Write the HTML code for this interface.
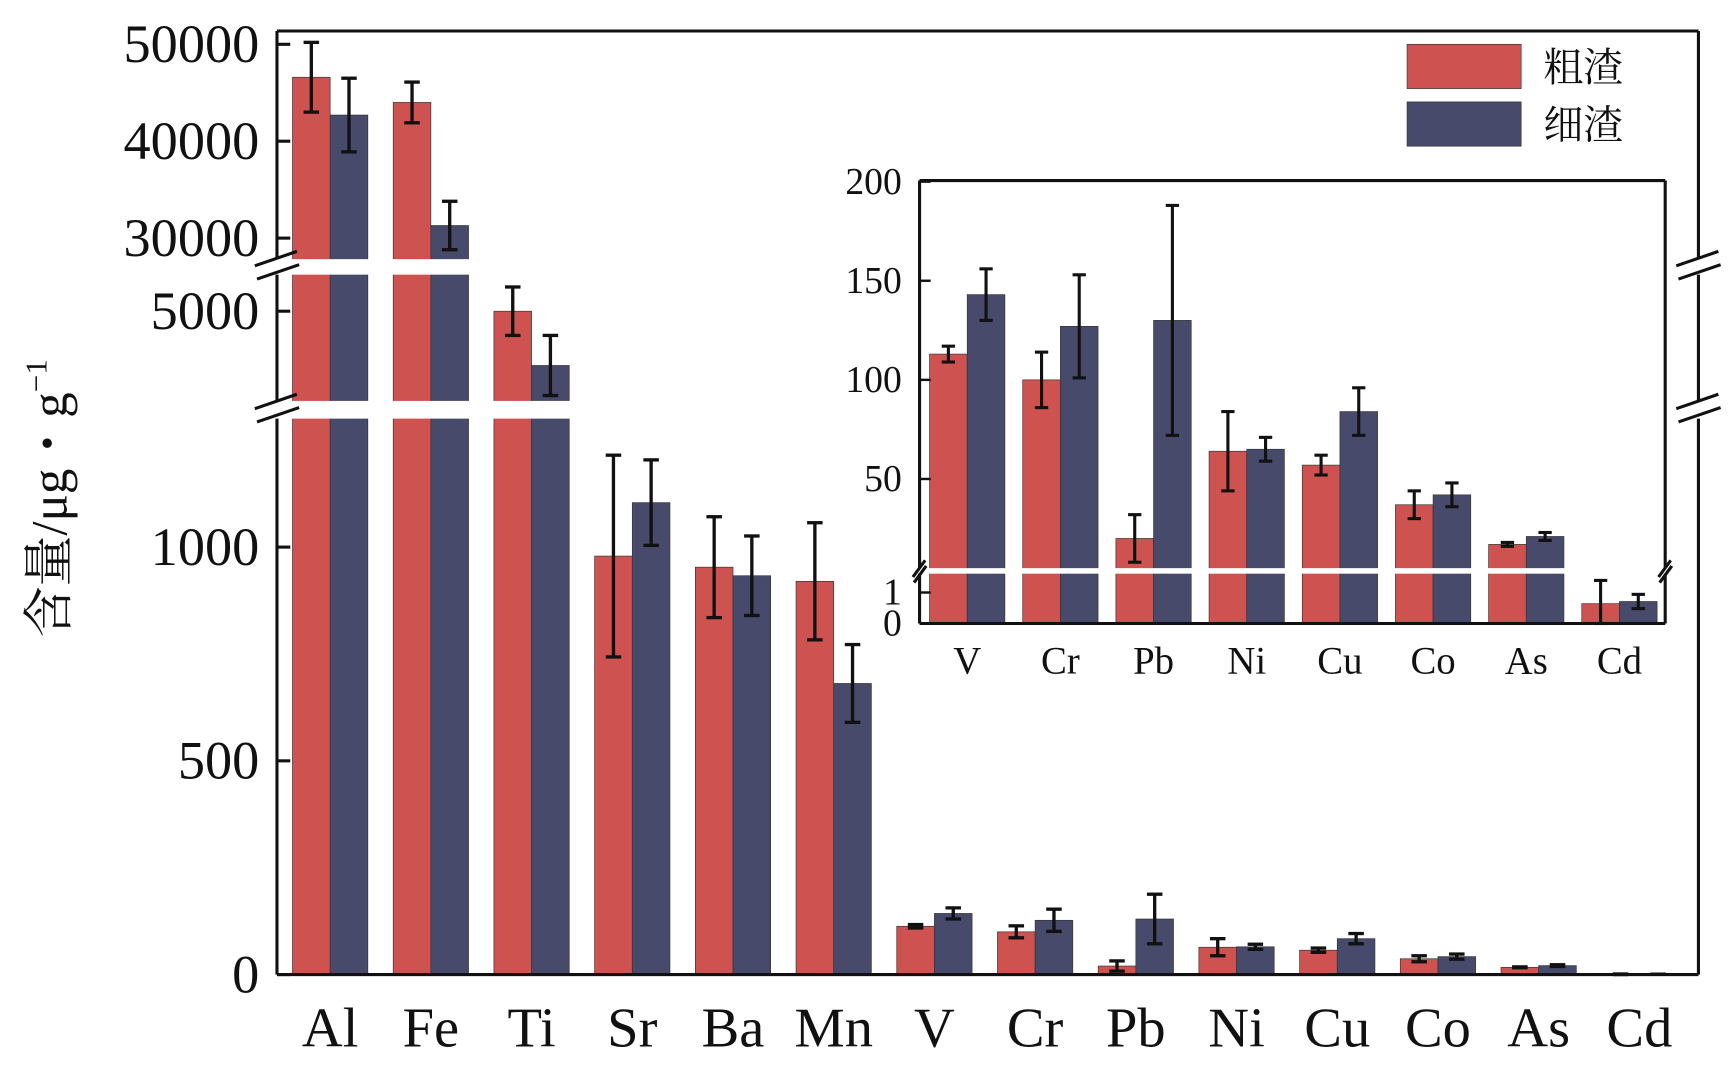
<!DOCTYPE html>
<html><head><meta charset="utf-8"><style>
html,body{margin:0;padding:0;background:#fff;}
svg{display:block;}
text{font-family:"Liberation Serif","Noto Serif CJK SC",serif;fill:#111;}
</style></head><body>
<svg id="chart" width="1735" height="1082" viewBox="0 0 1566 977" preserveAspectRatio="none" xmlns="http://www.w3.org/2000/svg"></svg>
<script>
const categories=["Al","Fe","Ti","Sr","Ba","Mn","V","Cr","Pb","Ni","Cu","Co","As","Cd"];
const coarse=[46600,44000,5000,979,953,920,113,100,20,64,57,37,17,0.64];
const coarseErr=[3600,2100,540,236,118,137,4,14,12,20,5,7,1,0.75];
const fine=[42700,31300,3790,1104,933,681,143,127,130,65,84,42,21,0.71];
const fineErr=[3800,2500,670,100,93,91,13,26,58,6,12,6,2,0.23];
const mainTicks=[0,500,1000,5000,30000,40000,50000];
const insetCats=["V","Cr","Pb","Ni","Cu","Co","As","Cd"];
const insetTicks=[0,1,50,100,150,200];
const RED="#cd5250",BLUE="#474a6a";
const svg=document.getElementById('chart');
const NS="http://www.w3.org/2000/svg";
function mk(tag,attrs,parent){const e=document.createElementNS(NS,tag);for(const k in attrs)e.setAttribute(k,attrs[k]);(parent||svg).appendChild(e);return e;}
function yMain(v){ if(v>27800) return Math.max(40+(50000-v)*0.00875,30); if(v>2000) return Math.max(362-(v-3000)*0.0405,248); return Math.max(880-v*0.386,378);}
function xMain(i){return 298+i*90.9;}
function yIn(v){ if(v>5.3) return 343-(v-100)*1.79; return Math.max(563-v*28,518);}
function xIn(i){return 873+i*84.1;}
categories.forEach((c,i)=>{
 [[coarse,coarseErr,RED,-34,'coarse'],[fine,fineErr,BLUE,0,'fine']].forEach(([vals,errs,col,off,nm])=>{
  const y=yMain(vals[i]);
  const r=mk('rect',{x:xMain(i)+off,y:y,width:34,height:880-y,fill:col,stroke:'#333','stroke-width':0.6});
  
  
 });
});
mk('rect',{x:252,y:234,width:1279,height:14,fill:'#fff'});
mk('rect',{x:252,y:362,width:1279,height:16,fill:'#fff'});
categories.forEach((c,i)=>{
 [[coarse,coarseErr,-17,'coarse'],[fine,fineErr,17,'fine']].forEach(([vals,errs,off,nm])=>{
  const v=vals[i],e=errs[i];if(i>=6)return;
  const x=xMain(i)+off,y1=yMain(v+e),y2=yMain(v-e);
  const g=mk('g',{stroke:'#111','stroke-width':3});
  
  
  mk('line',{x1:x,y1:y1,x2:x,y2:y2},g);mk('line',{x1:x-7,y1:y1,x2:x+7,y2:y1},g);mk('line',{x1:x-7,y1:y2,x2:x+7,y2:y2},g);
 });
});
categories.forEach((c,i)=>{ if(i<6)return;
 [[coarse,coarseErr,-17],[fine,fineErr,17]].forEach(([vals,errs,off])=>{
  const x=xMain(i)+off,y1=880-(vals[i]+errs[i])*0.386,y2=880-Math.max(vals[i]-errs[i],0)*0.386;
  const g=mk('g',{stroke:'#111','stroke-width':3});
  
  
  mk('line',{x1:x,y1:y1,x2:x,y2:y2},g);mk('line',{x1:x-7,y1:y1,x2:x+7,y2:y1},g);mk('line',{x1:x-7,y1:y2,x2:x+7,y2:y2},g);
 });
});
const fr=mk('g',{stroke:'#111','stroke-width':2.8,fill:'none'});

mk('line',{x1:250,y1:28,x2:1533,y2:28},fr);mk('line',{x1:250,y1:880,x2:1533,y2:880},fr);
[[28,234],[248,362],[378,880]].forEach(([a,b])=>{mk('line',{x1:250,y1:a,x2:250,y2:b},fr);mk('line',{x1:1533,y1:a,x2:1533,y2:b},fr);});
[241,370].forEach(y=>{[250,1533].forEach(x=>{mk('line',{x1:x-20,y1:y-1,x2:x+18,y2:y-14},fr);mk('line',{x1:x-18,y1:y+11,x2:x+20,y2:y-2},fr);});});
mainTicks.forEach(t=>{const y=yMain(t);
 mk('line',{x1:250,y1:y,x2:262,y2:y,stroke:'#111','stroke-width':2.8});
 const tx=mk('text',{x:234,y:y+16,'font-size':49,'text-anchor':'end'});tx.textContent=t;
 
});
categories.forEach((c,i)=>{const t=mk('text',{x:xMain(i),y:945,'font-size':51,'text-anchor':'middle'});t.textContent=c;
 });
const yt=mk('text',{x:0,y:0,'font-size':46,'text-anchor':'middle',transform:'translate(60,450) rotate(-90)'});
yt.innerHTML='含量/μg・g<tspan dy="-18" font-size="28">−1</tspan>';

[[RED,'粗渣',40],[BLUE,'细渣',92]].forEach(([col,lab,y])=>{
 const g=mk('g',{});
 mk('rect',{x:1270,y:y,width:103,height:40,fill:col,stroke:'#333','stroke-width':0.6},g);
 const t=mk('text',{x:1393,y:y+33,'font-size':36},g);t.textContent=lab;
});
const ins=mk('g',{});
mk('rect',{x:830,y:163,width:673,height:400,fill:'#fff'},ins);
insetCats.forEach((c,k)=>{const i=k+6;
 [[coarse,RED,-34,'coarse'],[fine,BLUE,0,'fine']].forEach(([vals,col,off,nm])=>{
  const y=yIn(vals[i]);const r=mk('rect',{x:xIn(k)+off,y:y,width:34,height:563-y,fill:col,stroke:'#333','stroke-width':0.6},ins);
  
 });
});
mk('rect',{x:832,y:513,width:669,height:5,fill:'#fff'},ins);
insetCats.forEach((c,k)=>{const i=k+6;
 [[coarse,coarseErr,-17],[fine,fineErr,17]].forEach(([vals,errs,off])=>{
  const x=xIn(k)+off,y1=yIn(vals[i]+errs[i]),y2=yIn(Math.max(vals[i]-errs[i],0));
  const g=mk('g',{stroke:'#111','stroke-width':2.8},ins);
  
  mk('line',{x1:x,y1:y1,x2:x,y2:y2},g);mk('line',{x1:x-6,y1:y1,x2:x+6,y2:y1},g);mk('line',{x1:x-6,y1:y2,x2:x+6,y2:y2},g);
 });
});
const ifr=mk('g',{stroke:'#111','stroke-width':2.8,fill:'none'},ins);
mk('line',{x1:830,y1:163,x2:1503,y2:163},ifr);mk('line',{x1:830,y1:563,x2:1503,y2:563},ifr);
[[163,513],[518,563]].forEach(([a,b])=>{mk('line',{x1:830,y1:a,x2:830,y2:b},ifr);mk('line',{x1:1503,y1:a,x2:1503,y2:b},ifr);});
[830,1503].forEach(x=>{mk('line',{x1:x-6,y1:521,x2:x+5,y2:506},ifr);mk('line',{x1:x-5,y1:526,x2:x+6,y2:511},ifr);});
insetTicks.forEach(t=>{const y=yIn(t);
 mk('line',{x1:830,y1:y,x2:840,y2:y,stroke:'#111','stroke-width':2.2},ins);
 const tx=mk('text',{x:814,y:y+11,'font-size':34,'text-anchor':'end'},ins);tx.textContent=t;
 });
insetCats.forEach((c,k)=>{const t=mk('text',{x:xIn(k),y:608,'font-size':35,'text-anchor':'middle'},ins);t.textContent=c;
 });
</script>
</body></html>
